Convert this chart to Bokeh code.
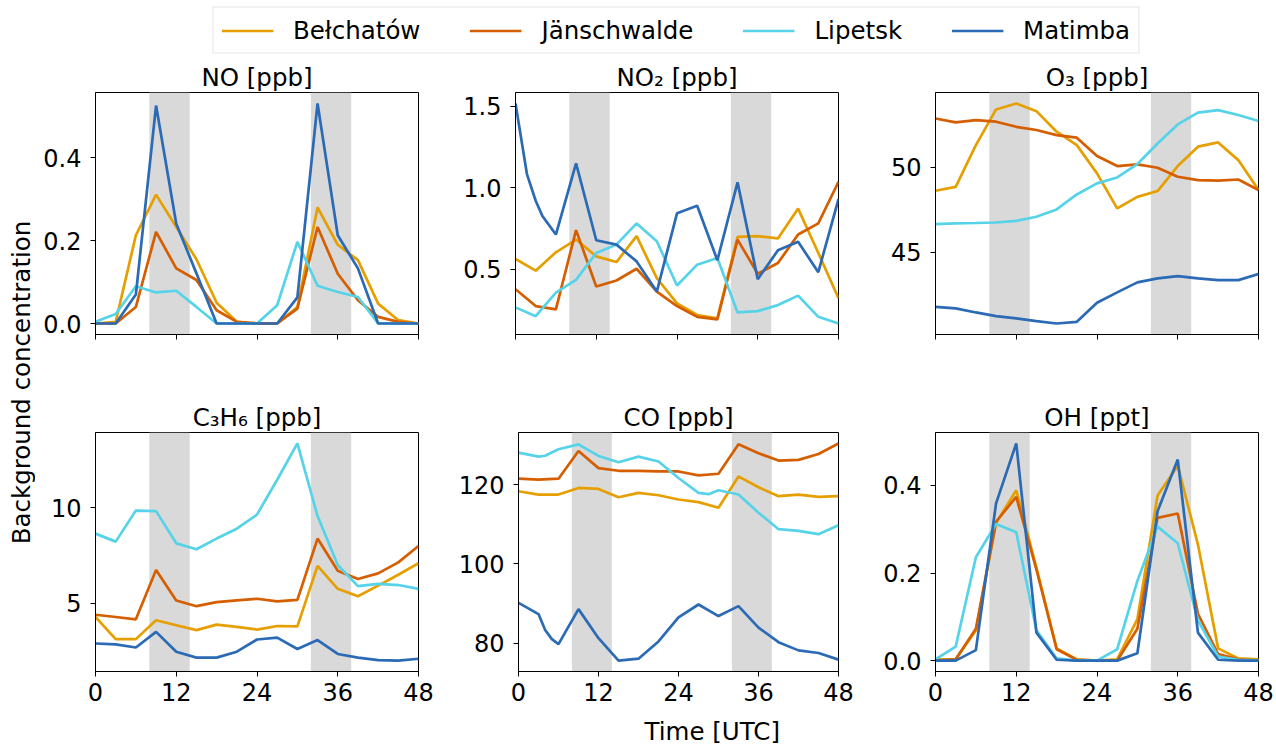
import math
from bokeh.plotting import figure
from bokeh.layouts import column, row
from bokeh.models import (Range1d, FixedTicker, BoxAnnotation, Legend, LegendItem,
                          PrintfTickFormatter)
from bokeh.core.properties import value
from bokeh.embed import file_html
from bokeh.resources import INLINE

# ---------------- data ----------------
sites = ["Bełchatów", "Jänschwalde", "Lipetsk", "Matimba"]
colors = ["#E69F00", "#D55E00", "#56D3E8", "#2B6AB4"]

hours = [0, 3, 6, 9, 12, 15, 18, 21, 24, 27, 30, 33, 36, 39, 42, 45, 48]
hours_no2_matimba = [0, 1.7, 3, 4, 6, 9, 12, 15, 18, 21, 24, 27, 30, 33, 36, 39, 42, 45, 48]
hours_co_matimba = [0, 3, 4, 5, 6, 9, 12, 15, 18, 21, 24, 27, 30, 33, 36, 39, 42, 45, 48]
hours_co_lipetsk = [0, 3, 4, 6, 9, 12, 15, 18, 21, 24, 27, 28.5, 30, 33, 36, 39, 42, 45, 48]

no_bel = [0, 0.004, 0.213, 0.311, 0.233, 0.155, 0.05, 0.004, 0, 0, 0.04, 0.28, 0.19, 0.153, 0.048, 0.008, 0]
no_jan = [0, 0, 0.04, 0.221, 0.133, 0.105, 0.032, 0.004, 0, 0, 0.036, 0.233, 0.12, 0.056, 0.016, 0.004, 0]
no_lip = [0.004, 0.023, 0.09, 0.075, 0.079, 0.04, 0, 0, 0, 0.044, 0.197, 0.091, 0.076, 0.064, 0, 0, 0]
no_mat = [0, 0, 0.07, 0.526, 0.241, 0.121, 0, 0, 0, 0, 0.063, 0.531, 0.213, 0.133, 0, 0, 0]

no2_bel = [0.562, 0.49, 0.603, 0.681, 0.578, 0.543, 0.702, 0.444, 0.29, 0.218, 0.197, 0.698, 0.702, 0.688, 0.871, 0.599, 0.321]
no2_jan = [0.376, 0.273, 0.253, 0.739, 0.393, 0.43, 0.502, 0.362, 0.273, 0.207, 0.191, 0.681, 0.471, 0.537, 0.712, 0.78, 1.036]
no2_lip = [0.265, 0.211, 0.356, 0.434, 0.599, 0.65, 0.78, 0.671, 0.399, 0.527, 0.568, 0.234, 0.242, 0.279, 0.337, 0.207, 0.166]
no2_mat = [1.516, 1.083, 0.919, 0.826, 0.712, 1.149, 0.677, 0.65, 0.547, 0.362, 0.842, 0.888, 0.554, 1.032, 0.438, 0.615, 0.667, 0.481, 0.929]

o3_bel = [48.63, 48.86, 51.31, 53.41, 53.76, 53.31, 52.1, 51.31, 49.65, 47.59, 48.27, 48.61, 50.08, 51.22, 51.47, 50.43, 48.67]
o3_jan = [52.88, 52.65, 52.78, 52.69, 52.39, 52.2, 51.9, 51.75, 50.67, 50.08, 50.18, 49.98, 49.45, 49.25, 49.22, 49.29, 48.67]
o3_lip = [46.67, 46.71, 46.73, 46.76, 46.86, 47.1, 47.53, 48.41, 49.06, 49.41, 50.2, 51.41, 52.53, 53.22, 53.37, 53.08, 52.73]
o3_mat = [41.8, 41.71, 41.47, 41.25, 41.12, 40.96, 40.82, 40.92, 42.04, 42.65, 43.24, 43.47, 43.61, 43.47, 43.37, 43.37, 43.73]

c3h6_bel = [4.27, 3.11, 3.11, 4.1, 3.84, 3.58, 3.87, 3.75, 3.61, 3.8, 3.78, 6.96, 5.75, 5.36, 5.92, 6.49, 7.1]
c3h6_jan = [4.39, 4.27, 4.15, 6.74, 5.14, 4.84, 5.05, 5.14, 5.23, 5.09, 5.17, 8.39, 6.7, 6.27, 6.56, 7.14, 8.0]
c3h6_lip = [8.65, 8.23, 9.86, 9.83, 8.14, 7.83, 8.39, 8.91, 9.65, 11.48, 13.39, 9.57, 7.0, 5.89, 6.01, 5.95, 5.75]
c3h6_mat = [2.88, 2.83, 2.67, 3.49, 2.45, 2.14, 2.14, 2.45, 3.09, 3.19, 2.59, 3.06, 2.33, 2.14, 2.01, 1.98, 2.08]

co_bel = [118.33, 117.5, 117.5, 119.17, 118.92, 116.83, 117.92, 117.33, 116.25, 115.58, 114.17, 122.08, 119.33, 117.08, 117.5, 116.92, 117.08]
co_jan = [121.5, 121.25, 121.5, 128.5, 124.17, 123.5, 123.5, 123.33, 123.33, 122.33, 122.75, 130.17, 127.92, 126.08, 126.25, 127.75, 130.42]
co_lip = [128.08, 127.08, 127.3, 128.92, 130.17, 127.25, 125.67, 127.08, 125.83, 121.67, 117.92, 117.6, 118.58, 117.5, 112.92, 108.75, 108.33, 107.5, 109.75]
co_mat = [90.17, 87.33, 83.33, 81.0, 79.75, 88.58, 81.25, 75.58, 76.08, 80.42, 86.5, 89.75, 86.83, 89.33, 83.92, 80.25, 78.17, 77.5, 75.83]

oh_bel = [0.003, 0.003, 0.069, 0.314, 0.389, 0.212, 0.028, 0.003, 0, 0.003, 0.095, 0.377, 0.445, 0.265, 0.028, 0.005, 0.003]
oh_jan = [0, 0.003, 0.073, 0.317, 0.374, 0.208, 0.026, 0.002, 0, 0, 0.073, 0.326, 0.336, 0.107, 0.015, 0.003, 0]
oh_lip = [0.003, 0.032, 0.236, 0.312, 0.293, 0.069, 0.005, 0, 0, 0.026, 0.182, 0.306, 0.268, 0.092, 0.009, 0.002, 0]
oh_mat = [0, 0, 0.024, 0.359, 0.496, 0.064, 0.002, 0, 0, 0, 0.017, 0.341, 0.459, 0.064, 0.002, 0, 0]

xticks = [0, 12, 24, 36, 48]
night_bands = [(8, 14), (32, 38)]

panels = [
    ("NO [ppb]", [(hours, no_bel), (hours, no_jan), (hours, no_lip), (hours, no_mat)], [0.0, 0.2, 0.4], "%.1f"),
    ("NO₂ [ppb]", [(hours, no2_bel), (hours, no2_jan), (hours, no2_lip), (hours_no2_matimba, no2_mat)], [0.5, 1.0, 1.5], "%.1f"),
    ("O₃ [ppb]", [(hours, o3_bel), (hours, o3_jan), (hours, o3_lip), (hours, o3_mat)], [45, 50], "%d"),
    ("C₃H₆ [ppb]", [(hours, c3h6_bel), (hours, c3h6_jan), (hours, c3h6_lip), (hours, c3h6_mat)], [5, 10], "%d"),
    ("CO [ppb]", [(hours, co_bel), (hours, co_jan), (hours_co_lipetsk, co_lip), (hours_co_matimba, co_mat)], [80, 100, 120], "%d"),
    ("OH [ppt]", [(hours, oh_bel), (hours, oh_jan), (hours, oh_lip), (hours, oh_mat)], [0.0, 0.2, 0.4], "%.1f"),
]

FONT = "DejaVu Sans"
FS = "24.5px"
TFS = "24px"


def style_strip(f):
    f.outline_line_color = None
    f.background_fill_color = "white"
    f.border_fill_color = "white"


def make_panel(idx, spec):
    title, series, yticks, fmt = spec
    col = idx % 3
    top_row = idx < 3
    width = 401 if col == 2 else 420
    right = 18 if col == 2 else 37
    height = 340 if top_row else 314
    bottom = 66 if top_row else 43
    allv = [v for s in series for v in s[1]]
    lo, hi = min(allv), max(allv)
    pad = 0.05 * (hi - lo)
    p = figure(width=width, height=height, x_range=Range1d(0, 48),
               y_range=Range1d(lo - pad, hi + pad),
               min_border_left=60, min_border_right=right,
               min_border_top=32, min_border_bottom=bottom,
               output_backend="svg", toolbar_location=None, title=title)
    p.title.align = "center"
    p.title.text_font = FONT
    p.title.text_font_size = FS
    p.title.text_font_style = "normal"
    p.title.text_color = "black"
    p.title.standoff = 1
    p.background_fill_color = "white"
    p.border_fill_color = "white"
    p.outline_line_color = "black"
    p.outline_line_width = 1
    p.xgrid.visible = False
    p.ygrid.visible = False
    for a, b in night_bands:
        p.add_layout(BoxAnnotation(left=a, right=b, fill_color="#d9d9d9", fill_alpha=1.0,
                                   line_color=None, level="underlay"))
    for (xs, ys), c in zip(series, colors):
        p.line(xs, ys, line_color=c, line_width=2.7)
    for ax in (p.xaxis[0], p.yaxis[0]):
        ax.axis_line_color = "black"
        ax.major_tick_line_color = "black"
        ax.major_tick_out = 5
        ax.major_tick_in = 0
        ax.minor_tick_line_color = None
        ax.major_label_text_font = FONT
        ax.major_label_text_font_size = TFS
        ax.major_label_text_color = "black"
    p.xaxis.ticker = FixedTicker(ticks=xticks)
    p.yaxis.ticker = FixedTicker(ticks=yticks)
    p.yaxis.formatter = PrintfTickFormatter(format=fmt)
    p.yaxis.major_label_standoff = 9
    p.xaxis.major_label_standoff = 6
    if top_row:
        p.xaxis.major_label_overrides = {t: "" for t in xticks}
    return p


figs = [make_panel(i, s) for i, s in enumerate(panels)]

# legend strip
lf = figure(width=1276, height=60, x_range=Range1d(0, 1), y_range=Range1d(0, 1),
            min_border_left=75, min_border_right=0, min_border_top=0, min_border_bottom=0,
            x_axis_type=None, y_axis_type=None, output_backend="svg", toolbar_location=None)
style_strip(lf)
items = []
for name, c in zip(sites, colors):
    # single-point line: draws nothing in the strip, only feeds the legend swatch
    r = lf.line(x=[0.5], y=[0.5], line_color=c, line_width=2.7)
    items.append(LegendItem(label=name, renderers=[r]))
leg = Legend(items=items, orientation="horizontal", location="center",
             label_text_font=FONT, label_text_font_size=FS, label_text_color="black",
             glyph_width=52, glyph_height=24, label_standoff=20, spacing=49,
             padding=8, margin=0, border_line_color="#cccccc", border_line_width=1,
             background_fill_color="white", background_fill_alpha=1.0)
lf.add_layout(leg)

# y-label strip
yf = figure(width=35, height=654, x_range=Range1d(0, 35), y_range=Range1d(0, 654),
            min_border=0, x_axis_type=None, y_axis_type=None,
            output_backend="svg", toolbar_location=None)
style_strip(yf)
yf.text(x=[21], y=[332], text=["Background concentration"], angle=math.pi / 2,
        text_align="center", text_baseline="middle", text_font=value(FONT),
        text_font_size=FS, text_color="black")

# x-label strip
xf = figure(width=1276, height=31, x_range=Range1d(0, 1276), y_range=Range1d(0, 31),
            min_border=0, x_axis_type=None, y_axis_type=None,
            output_backend="svg", toolbar_location=None)
style_strip(xf)
xf.title.visible = False
xf.text(x=[676.5], y=[14], text=["Time [UTC]"], text_align="center",
        text_baseline="middle", text_font=value(FONT), text_font_size=FS,
        text_color="black")

layout = column(lf, row(yf, column(row(figs[0], figs[1], figs[2]),
                                   row(figs[3], figs[4], figs[5]))), xf)

open("out.html", "w").write(file_html(layout, INLINE))
